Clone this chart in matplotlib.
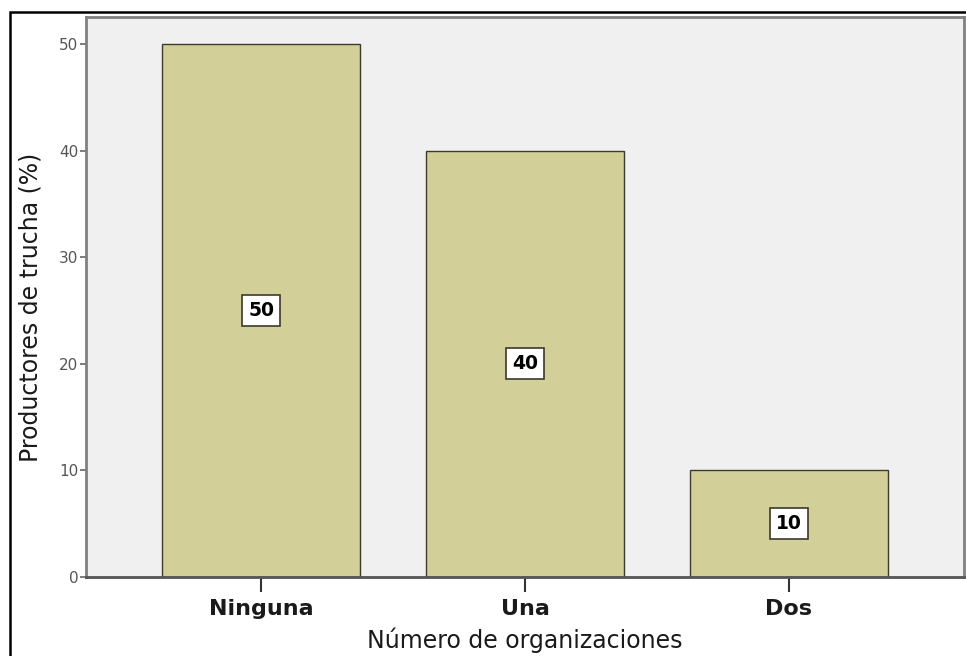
import matplotlib
matplotlib.use("Agg")
import matplotlib.pyplot as plt
from matplotlib.patches import Rectangle

plt.rcParams['font.family'] = ['DejaVu Sans']

categories = ["Ninguna", "Una", "Dos"]
values = [50, 40, 10]
y_ticks = [0, 10, 20, 30, 40, 50]

fig = plt.figure(figsize=(9.66, 6.56), dpi=100)
fig.patch.set_facecolor("white")

# outer frame around the whole graphic
fig.add_artist(Rectangle((10 / 966, -0.05), 1.2, 1 - 12 / 656 + 0.05,
                         transform=fig.transFigure, fill=False,
                         edgecolor="black", linewidth=1.8, zorder=10))

ax = fig.add_axes([86 / 966, 79 / 656, (964 - 86) / 966, (577 - 16.7) / 656])
ax.set_facecolor("#F0F0F0")

x = list(range(len(categories)))
ax.bar(x, values, width=0.75, color="#D3CF98", edgecolor="#3C3A2A",
       linewidth=1.0, zorder=2)

for xi, v in zip(x, values):
    ax.text(xi, v / 2, str(v), ha="center", va="center", fontsize=13.5,
            fontweight="bold", color="black", zorder=3,
            bbox=dict(boxstyle="square,pad=0.32", facecolor="white",
                      edgecolor="#3C3A2A", linewidth=1.2))

ax.set_xlim(-0.665, 2.665)
ax.set_ylim(0, 52.55)
ax.set_xticks(x)
ax.set_xticklabels(categories, fontsize=16, fontweight="bold", color="#1a1a1a")
ax.set_yticks(y_ticks)
ax.set_yticklabels([str(t) for t in y_ticks], fontsize=11, color="#555555")

ax.tick_params(axis="x", length=11, width=1.5, color="#333333", pad=5)
ax.tick_params(axis="y", length=4.5, width=1.2, color="#666666", pad=1)

for s in ax.spines.values():
    s.set_color("#808080")
    s.set_linewidth(2.0)
ax.spines["bottom"].set_color("#555555")

ax.set_xlabel("Número de organizaciones", fontsize=17, color="#1a1a1a",
              labelpad=6)
ax.set_ylabel("Productores de trucha (%)", fontsize=17, color="#1a1a1a")
ax.yaxis.set_label_coords(-0.05, 0.482)

fig.savefig("out.png", dpi=100)
